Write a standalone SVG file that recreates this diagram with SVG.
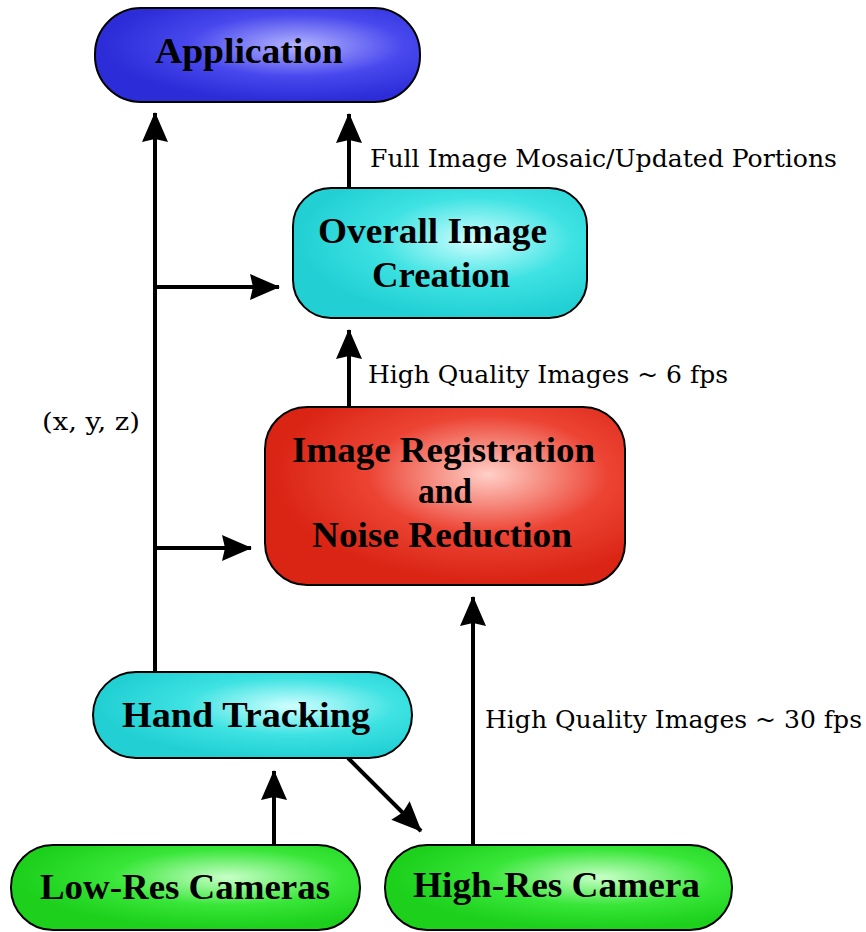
<svg xmlns="http://www.w3.org/2000/svg" width="866" height="932" viewBox="0 0 866 932">
<defs>
<radialGradient id="gBlue" cx="0.62" cy="0.4" r="0.6"><stop offset="0" stop-color="#b4b4ff"/><stop offset="0.55" stop-color="#4848ee"/><stop offset="1" stop-color="#2c2cd8"/></radialGradient>
<radialGradient id="gCyan" cx="0.62" cy="0.4" r="0.6"><stop offset="0" stop-color="#d0ffff"/><stop offset="0.55" stop-color="#3ee2e2"/><stop offset="1" stop-color="#22d0d4"/></radialGradient>
<radialGradient id="gRed" cx="0.62" cy="0.38" r="0.6"><stop offset="0" stop-color="#ffd0c8"/><stop offset="0.55" stop-color="#ec4434"/><stop offset="1" stop-color="#da2414"/></radialGradient>
<radialGradient id="gGreen" cx="0.62" cy="0.38" r="0.6"><stop offset="0" stop-color="#c8ffc8"/><stop offset="0.55" stop-color="#38e638"/><stop offset="1" stop-color="#1cd01c"/></radialGradient>
<marker id="ah" viewBox="0 0 30 26" refX="29" refY="13" markerWidth="30" markerHeight="26" markerUnits="userSpaceOnUse" orient="auto">
<path d="M0,0 L30,13 L0,26 L3,13 Z" fill="#000"/>
</marker>
</defs>
<style>
.box{stroke:#000;stroke-width:2}
.lbl{font-family:"Liberation Serif","Times New Roman",serif;font-weight:bold;font-size:36px;fill:#000}
.cap{font-family:"DejaVu Serif","Liberation Serif",serif;font-size:24px;fill:#000}
.con{stroke:#000;stroke-width:4;fill:none}
</style>
<g id="connectors">
<line class="con" x1="155" y1="672" x2="155" y2="113" marker-end="url(#ah)"/>
<line class="con" x1="155" y1="287" x2="279" y2="287" marker-end="url(#ah)"/>
<line class="con" x1="155" y1="548" x2="251" y2="548" marker-end="url(#ah)"/>
<line class="con" x1="349" y1="188" x2="349" y2="114" marker-end="url(#ah)"/>
<line class="con" x1="349" y1="407" x2="349" y2="330" marker-end="url(#ah)"/>
<line class="con" x1="473" y1="845" x2="473" y2="597" marker-end="url(#ah)"/>
<line class="con" x1="274" y1="845" x2="274" y2="771" marker-end="url(#ah)"/>
<line class="con" x1="348" y1="758" x2="421" y2="831" marker-end="url(#ah)"/>
<text class="cap" x="370" y="167" textLength="467" lengthAdjust="spacingAndGlyphs">Full Image Mosaic/Updated Portions</text>
<text class="cap" x="368" y="383" textLength="360" lengthAdjust="spacingAndGlyphs">High Quality Images ~ 6 fps</text>
<text class="cap" x="42" y="430" textLength="98" lengthAdjust="spacingAndGlyphs">(x, y, z)</text>
<text class="cap" x="485" y="728" textLength="377" lengthAdjust="spacingAndGlyphs">High Quality Images ~ 30 fps</text>
</g>
<g id="application">
<rect class="box" x="95" y="8" width="325" height="94" rx="46" fill="url(#gBlue)"/>
<text class="lbl" x="155" y="63" textLength="188" lengthAdjust="spacingAndGlyphs">Application</text>
</g>
<g id="overall">
<rect class="box" x="293" y="188" width="294" height="130" rx="38" fill="url(#gCyan)"/>
<text class="lbl" x="318" y="243" textLength="229" lengthAdjust="spacingAndGlyphs">Overall Image</text>
<text class="lbl" x="372" y="287" textLength="138" lengthAdjust="spacingAndGlyphs">Creation</text>
</g>
<g id="registration">
<rect class="box" x="265" y="407" width="360" height="178" rx="42" fill="url(#gRed)"/>
<text class="lbl" x="292" y="462" textLength="303" lengthAdjust="spacingAndGlyphs">Image Registration</text>
<text class="lbl" x="418" y="503" textLength="54" lengthAdjust="spacingAndGlyphs">and</text>
<text class="lbl" x="312" y="547" textLength="260" lengthAdjust="spacingAndGlyphs">Noise Reduction</text>
</g>
<g id="handtracking">
<rect class="box" x="93" y="672" width="319" height="86" rx="43" fill="url(#gCyan)"/>
<text class="lbl" x="122" y="727" textLength="248" lengthAdjust="spacingAndGlyphs">Hand Tracking</text>
</g>
<g id="lowres">
<rect class="box" x="11" y="845" width="349" height="85" rx="42" fill="url(#gGreen)"/>
<text class="lbl" x="40" y="899" textLength="290" lengthAdjust="spacingAndGlyphs">Low-Res Cameras</text>
</g>
<g id="highres">
<rect class="box" x="385" y="845" width="347" height="85" rx="42" fill="url(#gGreen)"/>
<text class="lbl" x="413" y="897" textLength="287" lengthAdjust="spacingAndGlyphs">High-Res Camera</text>
</g>
</svg>
